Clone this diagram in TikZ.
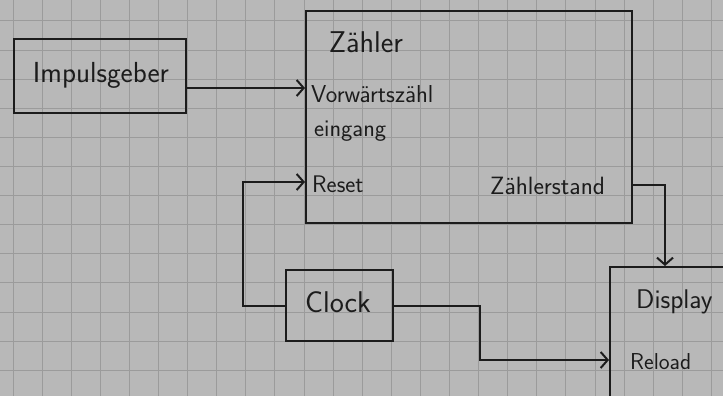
\documentclass[tikz,border=0pt]{standalone}
\usetikzlibrary{arrows.meta}
\definecolor{paper}{RGB}{184,184,184}
\definecolor{gridc}{RGB}{155,155,155}
\definecolor{ink}{RGB}{28,28,28}
\newcommand{\fsz}[1]{\fontsize{#1}{#1}\selectfont}
\begin{document}
\begin{tikzpicture}[x=1pt,y=-1pt,
  box/.style={draw=ink, line width=2pt, anchor=north west, inner sep=0pt},
  lbl/.style={text=ink, inner sep=0pt, font=\sffamily\fsz{24}},
  arr/.style={draw=ink, line width=2pt, -{Straight Barb[length=7pt,width=16pt,line width=2pt]}},
  wire/.style={draw=ink, line width=2pt}]
\useasboundingbox (0,0) rectangle (723,396);
\clip (0,0) rectangle (723,396);
\fill[paper] (0,0) rectangle (723,396);
\foreach \i in {0,...,24} \draw[gridc, line width=1pt] ({13+29.1*\i},0) -- ++(0,396);
\foreach \j in {0,...,13} \draw[gridc, line width=1pt] (0,{21+29.1*\j}) -- ++(723,0);
% boxes
\node[box, minimum width=172pt, minimum height=74pt] (imp) at (13,38) {};
\node[lbl, font=\sffamily\fsz{29}] (imptext) at (101,75) {Impulsgeber};
\node[box, minimum width=326pt, minimum height=212pt] (zaehler) at (305,10) {};
\node[lbl, font=\sffamily\fsz{30}] (ztitle) at (366,42) {Zähler};
\node[lbl, anchor=west, font=\sffamily\fsz{24.5}] (vw) at (311,94) {Vorwärtszähl};
\node[lbl, anchor=west] (ein) at (314,131) {eingang};
\node[lbl, anchor=west] (reset) at (312,184) {Reset};
\node[lbl, anchor=west, font=\sffamily\fsz{25}] (zs) at (490,186) {Zählerstand};
\node[box, minimum width=107pt, minimum height=71pt] (clock) at (285,269) {};
\node[lbl, font=\sffamily\fsz{30}] (clocktext) at (338,302) {Clock};
\node[box, minimum width=140pt, minimum height=160pt] (disp) at (609,266) {};
\node[lbl, anchor=west, font=\sffamily\fsz{27}] (disptext) at (636,302) {Display};
\node[lbl, anchor=west, font=\sffamily\fsz{23}] (reload) at (630,362) {Reload};
% connection points
\coordinate (pin) at (305,88);
\coordinate (rin) at (305,182);
\coordinate (zout) at (631,185);
\coordinate (dtop) at (665,266);
\coordinate (rlin) at (609,360);
% connectors
\draw[arr] (imp.east |- pin) -- (pin);
\draw[arr] (clock.west) -- ++(-42,0) |- (rin);
\draw[arr] (clock.east) -- ++(86,0) |- (rlin);
\draw[arr] (zout) -| (dtop);
\end{tikzpicture}
\end{document}
